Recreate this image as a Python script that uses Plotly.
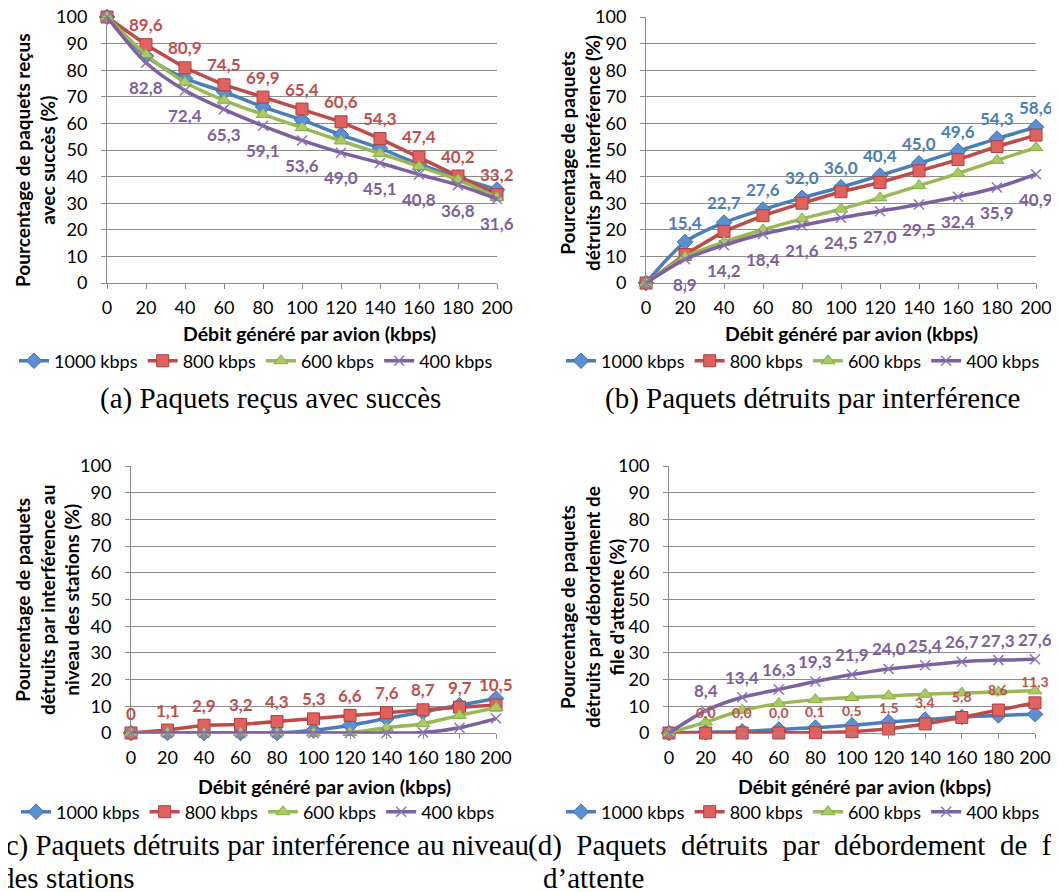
import plotly.graph_objects as go

# ---------------- data ----------------
X = [0, 20, 40, 60, 80, 100, 120, 140, 160, 180, 200]
SERIES = ["1000 kbps", "800 kbps", "600 kbps", "400 kbps"]

# (a) Paquets reçus avec succès
a_1000 = [100, 85.3, 76.9, 71.9, 66.2, 61.3, 55.7, 50.6, 44.7, 39.7, 35.1]
a_800 = [100, 89.6, 80.9, 74.5, 69.9, 65.4, 60.6, 54.3, 47.4, 40.2, 33.2]
a_600 = [100, 85.9, 75.5, 68.7, 63.4, 58.4, 53.4, 48.7, 43.8, 38.8, 32.2]
a_400 = [100, 82.8, 72.4, 65.3, 59.1, 53.6, 49.0, 45.1, 40.8, 36.8, 31.6]

# (b) Paquets détruits par interférence
b_1000 = [0, 15.4, 22.7, 27.6, 32.0, 36.0, 40.4, 45.0, 49.6, 54.3, 58.6]
b_800 = [0, 10.7, 19.4, 25.3, 30.0, 34.3, 37.8, 42.2, 46.4, 51.3, 55.6]
b_600 = [0, 9.8, 15.4, 20.0, 24.1, 27.8, 32.0, 36.6, 41.2, 46.1, 50.9]
b_400 = [0, 8.9, 14.2, 18.4, 21.6, 24.5, 27.0, 29.5, 32.4, 35.9, 40.9]

# (c) Paquets détruits par interférence au niveau des stations
c_1000 = [0, 0, 0, 0, 0, 1.0, 2.9, 5.4, 7.9, 10.4, 12.9]
c_800 = [0, 1.1, 2.9, 3.2, 4.3, 5.3, 6.6, 7.6, 8.7, 9.7, 10.5]
c_600 = [0, 0, 0, 0, 0, 0, 0.2, 2.0, 3.5, 6.6, 9.5]
c_400 = [0, 0, 0, 0, 0, 0, 0, 0, 0.2, 2.0, 5.4]

# (d) Paquets détruits par débordement de file d'attente
d_1000 = [0, 0.3, 0.6, 1.3, 2.0, 2.9, 4.1, 5.0, 6.0, 6.6, 7.0]
d_800 = [0, 0.0, 0.0, 0.0, 0.1, 0.5, 1.5, 3.4, 5.8, 8.6, 11.3]
d_600 = [0, 4.1, 8.5, 11.0, 12.5, 13.3, 13.9, 14.5, 15.0, 15.4, 15.8]
d_400 = [0, 8.4, 13.4, 16.3, 19.3, 21.9, 24.0, 25.4, 26.7, 27.3, 27.6]

Y_TITLES = [
    "Pourcentage de paquets reçus<br>avec succès (%)",
    "Pourcentage de paquets<br>détruits par interférence (%)",
    "Pourcentage de paquets<br>détruits par interférence au<br>niveau des stations (%)",
    "Pourcentage de paquets<br>détruits par débordement de<br>file d'attente (%)",
]
X_TITLE = "Débit généré par avion (kbps)"
CAPTIONS = [
    "(a) Paquets reçus avec succès",
    "(b) Paquets détruits par interférence",
]
CAPTION_C = ["(c) Paquets détruits par interférence au niveau", "des stations"]
CAPTION_D = ["(d)\u00a0\u00a0Paquets\u00a0\u00a0détruits\u00a0\u00a0par\u00a0\u00a0débordement\u00a0\u00a0de\u00a0\u00a0file", "d’attente"]

# ---------------- styling ----------------
W, H = 1059, 892
OFF = 8  # default page margin of the html body
FONT = "Lato"
SERIF = "Liberation Serif"
LINE_COL = ["#4a7ebb", "#be4b48", "#98b954", "#7d60a0"]
LABEL_COL = ["#4a7ebb", "#c0504d", "#98b954", "#7d60a0"]
MARKERS = [
    dict(symbol="diamond", size=12, color="#5b8fd3", line=dict(color="#3e6fad", width=1)),
    dict(symbol="square", size=12, color="#e0625f", line=dict(color="#b23f3c", width=1)),
    dict(symbol="triangle-up", size=12, color="#a9cc62", line=dict(color="#88aa45", width=1)),
    dict(symbol="x-thin", size=10, color="#9a86c2", line=dict(color="#8a74b4", width=1.5)),
]
SHAPES = ["spline", "linear", "spline", "spline"]
GRID = "#8c8c8c"

# pixel geometry (page coordinates) of the four plot areas: (x0, x1, ytop, ybottom)
PANELS = [
    (107, 497, 17, 283),
    (646, 1036, 17, 283),
    (131, 496, 466, 733),
    (669, 1035, 466, 733),
]


def px(xp):
    return (xp - OFF) / W


def py(yp):
    return 1 - (yp - OFF) / H


data = [
    [a_1000, a_800, a_600, a_400],
    [b_1000, b_800, b_600, b_400],
    [c_1000, c_800, c_600, c_400],
    [d_1000, d_800, d_600, d_400],
]

# which series get data labels: (series index, shift px, font size, skip first)
LABELS = [
    [(1, 20, 17, True), (3, -25, 17, True)],
    [(0, 20, 17, True), (3, -25, 17, True)],
    [(1, 20, 17, False)],
    [(3, 20, 17, True), (1, 21, 14, True)],
]


def fmt(v):
    return f"{v:.1f}".replace(".", ",")


fig = go.Figure()
annotations = []
layout = dict(
    width=W, height=H, autosize=False,
    margin=dict(l=0, r=0, t=0, b=0),
    paper_bgcolor="white", plot_bgcolor="white",
    font=dict(family=FONT, size=16, color="black"),
    template="none",
)

for p, (x0, x1, yt, yb) in enumerate(PANELS):
    sfx = "" if p == 0 else str(p + 1)
    xa, ya = "x" + sfx, "y" + sfx
    lg = "legend" + sfx
    for s in range(4):
        fig.add_trace(go.Scatter(
            x=X, y=data[p][s], name=SERIES[s], mode="lines+markers",
            xaxis=xa, yaxis=ya, legend=lg,
            line=dict(color=LINE_COL[s], width=3.5, shape=SHAPES[s], smoothing=0.8),
            marker=MARKERS[s], cliponaxis=False,
        ))
    layout["xaxis" + sfx] = dict(
        domain=[px(x0), px(x1)], anchor=ya, range=[0, 200],
        tickmode="array", tickvals=X, ticktext=[str(v) for v in X],
        showgrid=False, zeroline=False, showline=True, linecolor=GRID, linewidth=1,
        ticks="outside", ticklen=5, tickcolor=GRID, ticklabelstandoff=3,
        ticklabeloverflow="allow",
        tickfont=dict(family=FONT, size=18, color="black"),
    )
    layout["yaxis" + sfx] = dict(
        domain=[py(yb), py(yt)], anchor=xa, range=[0, 100],
        tickmode="array", tickvals=list(range(0, 101, 10)),
        showgrid=True, gridcolor=GRID, gridwidth=1, zeroline=False,
        showline=True, linecolor=GRID, linewidth=1,
        ticks="outside", ticklen=5, tickcolor=GRID, ticklabelstandoff=10,
        ticklabeloverflow="allow",
        tickfont=dict(family=FONT, size=18, color="black"),
    )
    # data labels
    for (s, shift, fs, skip) in LABELS[p]:
        vals = data[p][s]
        for i, v in enumerate(vals):
            if skip and i == 0:
                continue
            txt = "0" if (p == 2 and i == 0) else fmt(v)
            annotations.append(dict(
                x=X[i], y=v, xref=xa, yref=ya, text=txt, showarrow=False,
                yshift=shift, font=dict(family=FONT, size=fs, color=LABEL_COL[s], weight="bold"),
            ))

# axis titles (y) as rotated annotations
YT_POS = [(35, 160), (580, 153), (47, 600), (592, 607)]
for p, (cx, cy) in enumerate(YT_POS):
    annotations.append(dict(
        x=px(cx), y=py(cy), xref="paper", yref="paper", text=Y_TITLES[p],
        textangle=-90, showarrow=False, xanchor="center", yanchor="middle",
        font=dict(family=FONT, size=19, color="black", weight="bold"),
    ))
XT_POS = [(309, 333), (851, 333), (324, 786), (864, 786)]
for (cx, cy) in XT_POS:
    annotations.append(dict(
        x=px(cx), y=py(cy), xref="paper", yref="paper", text=X_TITLE,
        showarrow=False, xanchor="center", yanchor="middle",
        font=dict(family=FONT, size=19.5, color="black", weight="bold"),
    ))

# captions
CAP_FONT = dict(family=SERIF, size=29, color="black")
annotations.append(dict(x=px(270), y=py(398), xref="paper", yref="paper", text=CAPTIONS[0],
                        showarrow=False, xanchor="center", yanchor="middle", font=CAP_FONT))
annotations.append(dict(x=px(813), y=py(398), xref="paper", yref="paper", text=CAPTIONS[1],
                        showarrow=False, xanchor="center", yanchor="middle", font=CAP_FONT))
annotations.append(dict(x=px(-6), y=py(845), xref="paper", yref="paper", text=CAPTION_C[0],
                        showarrow=False, xanchor="left", yanchor="middle", font=CAP_FONT))
annotations.append(dict(x=px(-2), y=py(878), xref="paper", yref="paper", text=CAPTION_C[1],
                        showarrow=False, xanchor="left", yanchor="middle", font=CAP_FONT))
annotations.append(dict(x=px(526), y=py(845), xref="paper", yref="paper", text=CAPTION_D[0],
                        showarrow=False, xanchor="left", yanchor="middle", font=CAP_FONT))
annotations.append(dict(x=px(541), y=py(878), xref="paper", yref="paper", text=CAPTION_D[1],
                        showarrow=False, xanchor="left", yanchor="middle", font=CAP_FONT))

# legends
LEG_POS = [(14, 361), (561, 361), (16, 812), (561, 812)]
for p, (lx, ly) in enumerate(LEG_POS):
    sfx = "" if p == 0 else str(p + 1)
    layout["legend" + sfx] = dict(
        x=px(lx), y=py(ly), xanchor="left", yanchor="middle", orientation="h",
        font=dict(family=FONT, size=18, color="black"), bgcolor="rgba(0,0,0,0)",
        itemwidth=30, tracegroupgap=0,
    )

layout["annotations"] = annotations
layout["showlegend"] = True
fig.update_layout(**layout)

fig.write_html("out.html")
